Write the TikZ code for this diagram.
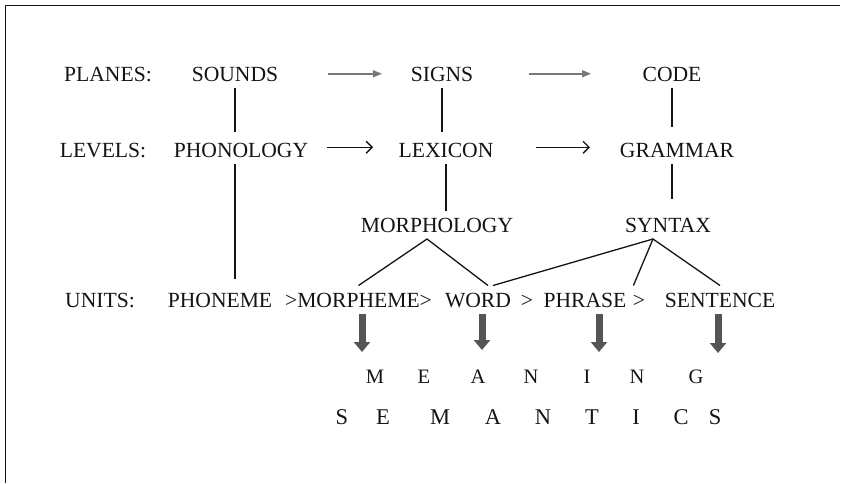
\documentclass[tikz,border=0pt]{standalone}
\usepackage{fontspec}
\setmainfont{Liberation Serif}
\usetikzlibrary{arrows.meta,calc}
\definecolor{lineColor}{RGB}{20,20,20}
\definecolor{planeGray}{RGB}{120,120,120}
\definecolor{meaningGray}{RGB}{85,85,85}

\begin{document}
\begin{tikzpicture}[
  x=1pt, y=-1pt,
  term/.style={font=\fontsize{21.6}{26}\selectfont, text=lineColor, inner sep=0pt, outer sep=7pt, text height=14.5pt, text depth=0pt, anchor=base},
  letterA/.style={font=\fontsize{20.5}{24}\selectfont, text=lineColor, inner sep=0pt, anchor=base},
  letterB/.style={font=\fontsize{22.5}{26}\selectfont, text=lineColor, inner sep=0pt, anchor=base},
  link/.style={draw=lineColor, line width=1.3pt},
  planearrow/.style={-{Triangle[length=9pt,width=7pt]}, line width=1.5pt, draw=planeGray, fill=planeGray},
  levelarrow/.style={-{Straight Barb[length=6pt,width=12pt]}, line width=1.4pt, draw=lineColor},
  meaningarrow/.style={-{Triangle[length=10pt,width=16pt]}, line width=7pt, draw=meaningGray, fill=meaningGray}
]
\useasboundingbox (0,0) rectangle (845,483);

% ------------------------------------------------------------------
% Frame
% ------------------------------------------------------------------
\draw[lineColor, line width=1pt] (5,483) -- (5,5) -- (840,5);

% ------------------------------------------------------------------
% Planes and levels
% ------------------------------------------------------------------
\node[term] (planes) at (108,81) {PLANES:};
\node[term] (sounds) at (235,81) {SOUNDS};
\node[term] (signs)  at (442,81) {SIGNS};
\node[term] (code)   at (672,81) {CODE};

\node[term] (levels)    at (103,157) {LEVELS:};
\node[term] (phonology) at (241,157) {PHONOLOGY};
\node[term] (lexicon)   at (446,157) {LEXICON};
\node[term] (grammar)   at (677,157) {GRAMMAR};

\node[term] (morphology) at (437,232) {MORPHOLOGY};
\node[term] (syntax)     at (668,232) {SYNTAX};

\draw[planearrow, shorten <=42.8pt, shorten >=21.8pt] (sounds.east) -- (signs.west);
\draw[planearrow, shorten <=48.8pt, shorten >=44.6pt] (signs.east) -- (code.west);

\draw[levelarrow, shorten <=11.8pt, shorten >=18.6pt] ([yshift=2.5pt]phonology.east) -- ([yshift=2.5pt]lexicon.west);
\draw[levelarrow, shorten <=35.6pt, shorten >=23pt] ([yshift=2.5pt]lexicon.east) -- ([yshift=2.5pt]grammar.west);

\draw[link, shorten >=4pt] (sounds.south) -- (sounds.south |- phonology.north);
\draw[link, shorten >=4pt] (signs.south) -- (signs.south |- lexicon.north);
\draw[link, shorten >=9pt] (code.south) -- (code.south |- grammar.north);
\draw[link] (lexicon.south) -- (lexicon.south |- morphology.north);
\draw[link, shorten >=12pt] (code.south |- grammar.south) -- (code.south |- syntax.north);

% ------------------------------------------------------------------
% Units
% ------------------------------------------------------------------
\node[term] (units)    at (100,307) {UNITS:};
\node[term] (phoneme)  at (220,307) {PHONEME};
\node[term] (morpheme) at (358.5,307) {>MORPHEME>};
\node[term] (word)     at (478,307) {WORD};
\node[term] (gtA)      at (527,307) {>};
\node[term] (phrase)   at (585,307) {PHRASE};
\node[term] (gtB)      at (639,307) {>};
\node[term] (sentence) at (720,307) {SENTENCE};

\draw[link, shorten >=7pt] (sounds.south |- phonology.south) -- (sounds.south |- phoneme.north);

\coordinate (morphtop) at ([xshift=-10pt]morphology.south);
\coordinate (syntop) at ([xshift=-15pt]syntax.south);
\draw[link] (morpheme.north) -- (morphtop) -- ([xshift=10pt]word.north);
\draw[link] ([xshift=15pt]word.north) -- (syntop);
\draw[link] (phrase.north east) -- (syntop) -- (sentence.north);

% ------------------------------------------------------------------
% Meaning and semantics
% ------------------------------------------------------------------
\draw[meaningarrow] ([xshift=3.5pt]morpheme.south) -- ++(0,38);
\draw[meaningarrow] ([xshift=4pt]word.south) -- ++(0,36);
\draw[meaningarrow] ([xshift=14pt]phrase.south) -- ++(0,38);
\draw[meaningarrow] ([xshift=-2pt]sentence.south) -- ++(0,39);

\foreach \ch/\x [count=\i] in {M/375, E/424, A/478, N/531, I/587, N/637, G/696} {
  \node[letterA] (m\i) at (\x,383) {\ch};
}
\foreach \ch/\x [count=\i] in {S/342, E/383, M/440, A/493, N/543, T/592, I/636, C/681, S/715} {
  \node[letterB] (s\i) at (\x,424) {\ch};
}

\end{tikzpicture}
\end{document}
